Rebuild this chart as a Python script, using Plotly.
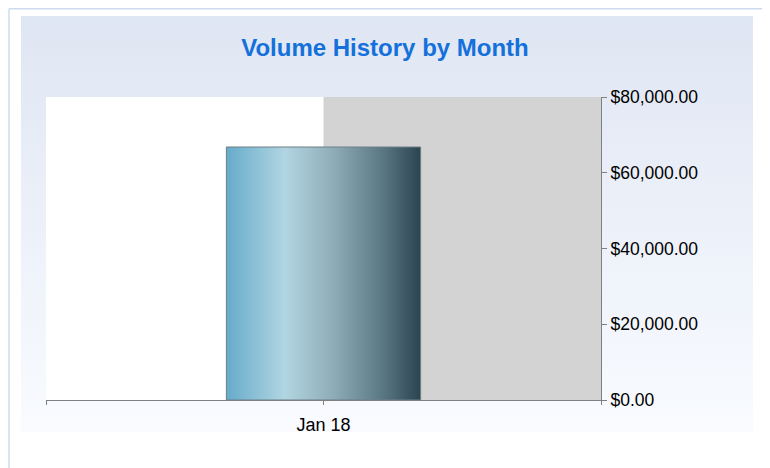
import base64
import plotly.graph_objects as go

# ---- data ----
categories = ["Jan 18"]
volume = [66800]
y_ticks = [0, 20000, 40000, 60000, 80000]

# the page body adds an 8px offset; work in page pixels and subtract it
OFF = 8
W, H = 770 - OFF, 468 - OFF
L, R, T, B = 46 - OFF, 601 - OFF, 97 - OFF, 400 - OFF  # plot area in figure px
PW, PH = R - L, B - T


def px_x(px):
    return (px - OFF - L) / PW


def px_y(py):
    return (B - (py - OFF)) / PH


FONT = "Liberation Sans, Arial, sans-serif"

xs = list(range(len(categories)))
bar_w = 0.35

fig = go.Figure()

# gradient-filled bars (polygons derived from data values)
for i, v in zip(xs, volume):
    fig.add_trace(go.Scatter(
        x=[i - bar_w / 2, i + bar_w / 2, i + bar_w / 2, i - bar_w / 2, i - bar_w / 2],
        y=[0, 0, v, v, 0],
        mode="lines", fill="toself",
        line=dict(color="#6e7f86", width=1),
        fillgradient=dict(
            type="horizontal",
            colorscale=[[0, "#66abc9"], [0.3, "#b1d5e2"], [0.55, "#8fadb8"],
                        [0.8, "#5b7985"], [1, "#2b4450"]],
        ),
        hoverinfo="skip", showlegend=False,
    ))

fig.add_trace(go.Bar(
    x=xs, y=volume, width=bar_w,
    marker=dict(color="rgba(0,0,0,0)", line=dict(width=0)),
    showlegend=False,
))

svg = (
    '<svg xmlns="http://www.w3.org/2000/svg" width="100" height="100" preserveAspectRatio="none">'
    '<defs><linearGradient id="g" x1="0" y1="0" x2="0" y2="1">'
    '<stop offset="0" stop-color="#dfe6f3"/><stop offset="1" stop-color="#f9fbff"/>'
    '</linearGradient></defs><rect width="100" height="100" fill="url(#g)"/></svg>'
)
src = "data:image/svg+xml;base64," + base64.b64encode(svg.encode()).decode()

fig.add_layout_image(dict(
    source=src, xref="paper", yref="paper",
    x=px_x(21), y=px_y(16), sizex=(753 - 21) / PW, sizey=(432 - 16) / PH,
    xanchor="left", yanchor="top", sizing="stretch", layer="below",
))

border = "#cddbf1"
top_y = px_y(OFF + 0.75)
shapes = [
    dict(type="line", xref="paper", yref="paper", x0=px_x(9), x1=px_x(9), y0=top_y, y1=px_y(480),
         line=dict(color=border, width=1.5)),
    dict(type="line", xref="paper", yref="paper", x0=px_x(9), x1=px_x(764), y0=top_y, y1=top_y,
         line=dict(color=border, width=1.5)),
    dict(type="line", xref="paper", yref="paper", x0=px_x(764), x1=px_x(764), y0=top_y, y1=px_y(480),
         line=dict(color=border, width=1.5)),
    dict(type="rect", xref="x domain", yref="y domain", x0=0, x1=1, y0=0, y1=1,
         fillcolor="white", line=dict(width=0), layer="below"),
    dict(type="rect", xref="x", yref="y domain", x0=xs[0], x1=xs[-1] + 0.5, y0=0, y1=1,
         fillcolor="#d3d3d3", line=dict(width=0), layer="below"),
]

fig.update_layout(
    width=W, height=H,
    margin=dict(l=L, r=W - R, t=T, b=H - B, pad=0),
    paper_bgcolor="white", plot_bgcolor="white",
    shapes=shapes,
    title=dict(text="<b>Volume History by Month</b>", x=(385 - OFF) / W, xref="container",
               xanchor="center",
               y=1 - (48 - OFF) / H, yref="container", yanchor="middle",
               font=dict(family=FONT, size=24, color="#1470db")),
    xaxis=dict(range=[-0.5, len(categories) - 0.5],
               tickvals=[-0.5] + xs + [len(categories) - 0.5],
               ticktext=[""] + categories + [""],
               ticks="outside", ticklen=4, tickcolor="#808080", tickwidth=1,
               showline=True, linecolor="#808080", linewidth=1,
               showgrid=False, zeroline=False, ticklabelstandoff=4,
               tickfont=dict(family=FONT, size=18, color="black")),
    yaxis=dict(side="right", range=[0, 80000], tickvals=y_ticks, tickformat="$,.2f",
               ticks="outside", ticklen=5, tickcolor="#808080", tickwidth=1,
               showline=True, linecolor="#808080", linewidth=1,
               showgrid=False, zeroline=False, ticklabelstandoff=0,
               tickfont=dict(family=FONT, size=17.5, color="black")),
    font=dict(family=FONT),
    hovermode=False,
)

fig.write_html("out.html")
